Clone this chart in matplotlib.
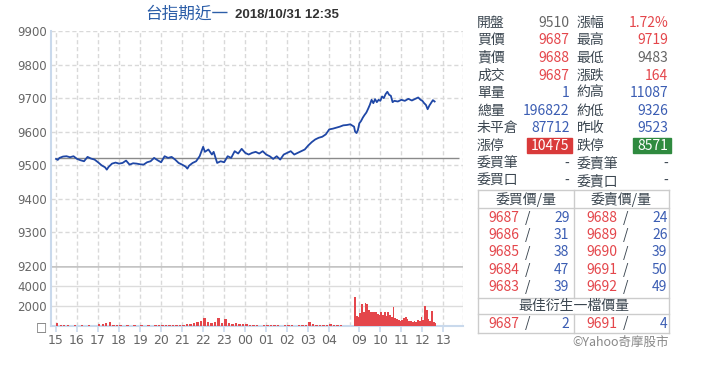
import matplotlib
matplotlib.use('Agg')
import matplotlib.pyplot as plt
import matplotlib.patches as patches

# ---- price series ----
night_times = ['15:00', '15:05', '15:10', '15:20', '15:30', '15:40', '15:50',
               '16:00', '16:10', '16:20', '16:30', '16:40', '16:50',
               '17:00', '17:10', '17:20', '17:25', '17:30', '17:40', '17:50',
               '18:00', '18:10', '18:20', '18:30', '18:40', '18:50',
               '19:00', '19:10', '19:20', '19:30', '19:40', '19:50',
               '20:00', '20:10', '20:20', '20:30', '20:40', '20:50',
               '21:00', '21:10', '21:15', '21:20', '21:30', '21:40', '21:50',
               '22:00', '22:05', '22:15', '22:25', '22:30', '22:40', '22:50',
               '23:00', '23:10', '23:20', '23:30', '23:40', '23:50',
               '00:00', '00:10', '00:20', '00:30', '00:40', '00:50',
               '01:00', '01:10', '01:20', '01:30', '01:40', '01:50',
               '02:00', '02:10', '02:20', '02:30', '02:40', '02:50',
               '03:00', '03:10', '03:20', '03:30', '03:40', '03:50',
               '04:00', '04:10', '04:20', '04:30', '04:40', '04:50', '05:00']
night_prices = [9519, 9516, 9522, 9526, 9527, 9524, 9527,
                9519, 9515, 9512, 9525, 9520, 9517,
                9509, 9500, 9494, 9487, 9495, 9505, 9508,
                9505, 9507, 9514, 9502, 9506, 9505,
                9503, 9502, 9509, 9512, 9522, 9515,
                9509, 9527, 9522, 9525, 9517, 9507,
                9502, 9496, 9490, 9499, 9507, 9512, 9527,
                9555, 9540, 9547, 9532, 9540, 9507, 9512,
                9509, 9527, 9522, 9542, 9535, 9549,
                9537, 9532, 9537, 9540, 9535, 9542,
                9532, 9527, 9519, 9527, 9517, 9532,
                9537, 9542, 9532, 9537, 9542, 9547,
                9559, 9569, 9577, 9582, 9585, 9592,
                9607, 9609, 9612, 9615, 9619, 9620, 9622]

day_times = ['08:45', '08:48', '08:52', '08:56', '09:00', '09:05', '09:10', '09:15',
             '09:20', '09:25', '09:30', '09:35', '09:40', '09:45', '09:50', '09:55',
             '10:00', '10:05', '10:10', '10:15', '10:20', '10:25', '10:30', '10:35',
             '10:40', '10:50', '11:00', '11:10', '11:20', '11:30', '11:40', '11:48',
             '11:55', '12:00', '12:05', '12:10', '12:15', '12:20', '12:25', '12:30', '12:35']
day_prices = [9615, 9600, 9596, 9605, 9625, 9632, 9642, 9650,
              9657, 9668, 9680, 9695, 9685, 9697, 9688, 9695,
              9692, 9705, 9700, 9712, 9719, 9710, 9707, 9688,
              9692, 9690, 9695, 9692, 9698, 9693, 9698, 9702,
              9695, 9692, 9685, 9680, 9667, 9678, 9686, 9694, 9690]

prev_close = 9523

# ---- volume (10-min bins at night, 5-min bins in the day session) ----
night_vol_start = '15:00'
night_vol = [330, 80, 60, 70, 50, 60,
             50, 60, 40, 60, 50, 50,
             250, 200, 300, 450, 150, 80,
             60, 50, 70, 50, 60, 50,
             60, 50, 60, 50, 70, 60,
             60, 80, 70, 60, 100, 80,
             150, 200, 180, 300, 400, 500,
             770, 450, 350, 400, 770, 300,
             670, 300, 250, 300, 250, 200,
             200, 150, 80, 60, 50, 60,
             70, 60, 80, 60, 50, 60,
             60, 70, 50, 60, 60, 70,
             360, 200, 150, 100, 60, 60,
             200, 150, 100, 60, 50, 40]
day_vol_start = '08:45'
day_vol = [2930, 1000, 900, 1300, 2170, 1400, 2300, 2250, 1600, 1400,
           1400, 1400, 1400, 1200, 1100, 1430, 1100, 1430, 1000, 1430,
           1100, 900, 1900, 800, 700, 600, 500, 600, 800, 900,
           700, 500, 500, 400, 500, 400, 600, 500, 900, 600,
           2000, 1600, 700, 500, 1470, 400, 300]

night_labels = ['15', '16', '17', '18', '19', '20', '21', '22', '23',
                '00', '01', '02', '03', '04']
day_labels = ['09', '10', '11', '12', '13']

# ---- quote panel ----
quote_left = ['開盤', '買價', '賣價', '成交', '單量', '總量', '未平倉', '漲停', '委買筆', '委買口']
quote_left_val = ['9510', '9687', '9688', '9687', '1', '196822', '87712', '10475', '-', '-']
quote_right = ['漲幅', '最高', '最低', '漲跌', '約高', '約低', '昨收', '跌停', '委賣筆', '委賣口']
quote_right_val = ['1.72%', '9719', '9483', '164', '11087', '9326', '9523', '8571', '-', '-']
bid_px = ['9687', '9686', '9685', '9684', '9683']
bid_qty = ['29', '31', '38', '47', '39']
ask_px = ['9688', '9689', '9690', '9691', '9692']
ask_qty = ['24', '26', '39', '50', '49']
best_bid, best_bid_qty = '9687', '2'
best_ask, best_ask_qty = '9691', '4'

RED = '#e4464b'
BLUE = '#3b5db3'
GRAY = '#666666'
DARK = '#3b4650'
LINE_BLUE = '#1f47a6'
GRID = '#d9d9d9'
CJK = ['Noto Sans CJK TC', 'DejaVu Sans']

DAY_OFFSET = 14.43  # axis position of 09:00


def pos(t):
    h, m = map(int, t.split(':'))
    if h >= 15 or h < 5 or (h == 5 and m == 0):
        return (h - 15) % 24 + m / 60
    return DAY_OFFSET + (h - 9) + m / 60


W, H = 720, 365
fig = plt.figure(figsize=(W / 100, H / 100), dpi=100)


def fx(x):
    return x / W


def fy(y):
    return 1 - y / H


left, right = 51, 463.3
ax = fig.add_axes([fx(left), fy(266), fx(right - left), (266 - 31) / H])
axv = fig.add_axes([fx(left), fy(326), fx(right - left), (326 - 266) / H])

xmin = -5 / 21.02
xmax = (463.3 - 56) / 21.02
tick_pos = list(range(len(night_labels))) + [DAY_OFFSET + i for i in range(len(day_labels))]
grid_pos = tick_pos + [14]

for a in (ax, axv):
    a.set_xlim(xmin, xmax)
    for s in a.spines.values():
        s.set_visible(False)
    for g in grid_pos + [xmax - 0.02]:
        a.axvline(g, color=GRID, lw=1.0, ls=(0, (3, 2)), zorder=1)

# price panel
ax.set_ylim(9200, 9900)
ax.set_yticks(range(9200, 10000, 100))
for v in range(9300, 10000, 100):
    ax.axhline(v, color=GRID, lw=1.0, ls=(0, (3, 2)), zorder=1)
ax.tick_params(axis='y', length=0, labelsize=8.5, labelcolor=GRAY, pad=3)
ax.set_xticks([])
ax.spines['left'].set_visible(True)
ax.spines['left'].set_color('#c9d9ec')
ax.spines['left'].set_linewidth(1.5)

ax.hlines(prev_close, 0, xmax - 0.2, color='#8a8a8a', lw=1.0, zorder=2)
xs = [pos(t) for t in night_times + day_times]
ax.plot(xs, night_prices + day_prices, color=LINE_BLUE, lw=1.3, zorder=3)

# volume panel
axv.set_ylim(0, 6000)
axv.set_yticks([0, 2000, 4000])
axv.set_yticklabels(['□', '2000', '4000'])
axv.axhline(6000, color='#c4c4c4', lw=1.8, zorder=2)
for v in (2000, 4000):
    axv.axhline(v, color='#dcdcdc', lw=1.0, zorder=1)
axv.tick_params(axis='y', length=0, labelsize=8.5, labelcolor=GRAY, pad=3)
axv.spines['left'].set_visible(True)
axv.spines['left'].set_color('#c9d9ec')
axv.spines['left'].set_linewidth(1.5)
axv.spines['bottom'].set_visible(True)
axv.spines['bottom'].set_color('#c9d9ec')
axv.spines['bottom'].set_linewidth(1.5)
axv.set_xticks(tick_pos)
axv.set_xticklabels(night_labels + day_labels)
axv.tick_params(axis='x', length=4, color='#c9d9ec', width=1.2,
                labelsize=9, labelcolor=GRAY, pad=2)

n0 = pos(night_vol_start)
axv.bar([n0 + i / 6 for i in range(len(night_vol))], night_vol, width=1 / 6 * 0.7,
        align='edge', color=RED, lw=0, zorder=3)
d0 = pos(day_vol_start)
axv.bar([d0 + i / 12 for i in range(len(day_vol))], day_vol, width=1 / 12,
        align='edge', color=RED, lw=0, zorder=3)

# title
fig.text(fx(228), fy(14), '台指期近一', color='#2c5ea8', fontsize=12,
         family=CJK, ha='right', va='center')
fig.text(fx(235), fy(14.5), '2018/10/31 12:35', color='#333333', fontsize=9.5,
         family=['Liberation Sans', 'DejaVu Sans'], fontweight='bold', ha='left', va='center')

# quote panel
row_y = [22.7 + i * 17.6 for i in range(len(quote_left))]


def val_color(label, val):
    if label in ('開盤', '最低'):
        return GRAY
    if label in ('單量', '總量', '未平倉', '約高', '約低', '昨收'):
        return BLUE
    if val == '-':
        return DARK
    return RED


for i, y in enumerate(row_y):
    fig.text(fx(477), fy(y), quote_left[i], color=DARK, fontsize=10, family=CJK, ha='left', va='center')
    fig.text(fx(576.5), fy(y), quote_right[i], color=DARK, fontsize=10, family=CJK, ha='left', va='center')
    lv, rv = quote_left_val[i], quote_right_val[i]
    if quote_left[i] == '漲停':
        fig.patches.append(patches.Rectangle((fx(526.5), fy(y + 7.5)), fx(45.5), 15 / H,
                                             transform=fig.transFigure, color='#d93a3a'))
        fig.patches.append(patches.Rectangle((fx(633), fy(y + 7.5)), fx(37.5), 15 / H,
                                             transform=fig.transFigure, color='#2f8a3f'))
        fig.text(fx(569.5), fy(y), lv, color='white', fontsize=10, family=CJK, ha='right', va='center')
        fig.text(fx(668), fy(y), rv, color='white', fontsize=10, family=CJK, ha='right', va='center')
        continue
    fig.text(fx(569.5), fy(y), lv, color=val_color(quote_left[i], lv), fontsize=10,
             family=CJK, ha='right', va='center')
    fig.text(fx(668), fy(y), rv, color=val_color(quote_right[i], rv), fontsize=10,
             family=CJK, ha='right', va='center')

# order book table
tl, tr, tm = 478.3, 669.3, 573.5
border = '#cccccc'
for y0 in (190, 208.3, 298.3, 314.3, 333.3):
    fig.add_artist(plt.Line2D([fx(tl), fx(tr)], [fy(y0), fy(y0)], color=border, lw=1.0))
for x0 in (tl, tr):
    fig.add_artist(plt.Line2D([fx(x0), fx(x0)], [fy(190), fy(333.3)], color=border, lw=1.0))
for (ya, yb) in ((190, 298.3), (314.3, 333.3)):
    fig.add_artist(plt.Line2D([fx(tm), fx(tm)], [fy(ya), fy(yb)], color=border, lw=1.0))

fig.text(fx((tl + tm) / 2), fy(199.5), '委買價/量', color=DARK, fontsize=10, family=CJK, ha='center', va='center')
fig.text(fx((tm + tr) / 2), fy(199.5), '委賣價/量', color=DARK, fontsize=10, family=CJK, ha='center', va='center')


def book_row(y, bp, bq, ap, aq):
    fig.text(fx(488), fy(y), bp, color=RED, fontsize=10, family=CJK, ha='left', va='center')
    fig.text(fx(528), fy(y), '/', color=DARK, fontsize=10, family=CJK, ha='center', va='center')
    fig.text(fx(569.5), fy(y), bq, color=BLUE, fontsize=10, family=CJK, ha='right', va='center')
    fig.text(fx(586.5), fy(y), ap, color=RED, fontsize=10, family=CJK, ha='left', va='center')
    fig.text(fx(626), fy(y), '/', color=DARK, fontsize=10, family=CJK, ha='center', va='center')
    fig.text(fx(667.5), fy(y), aq, color=BLUE, fontsize=10, family=CJK, ha='right', va='center')


for i in range(len(bid_px)):
    book_row(217.7 + i * 17.4, bid_px[i], bid_qty[i], ask_px[i], ask_qty[i])

fig.text(fx((tl + tr) / 2), fy(306), '最佳衍生一檔價量', color=DARK, fontsize=10, family=CJK,
         ha='center', va='center')
book_row(323.5, best_bid, best_bid_qty, best_ask, best_ask_qty)

fig.text(fx(669), fy(342), '©Yahoo奇摩股市', color='#888888', fontsize=9, family=CJK,
         ha='right', va='center')

fig.savefig('out.png', dpi=100)
